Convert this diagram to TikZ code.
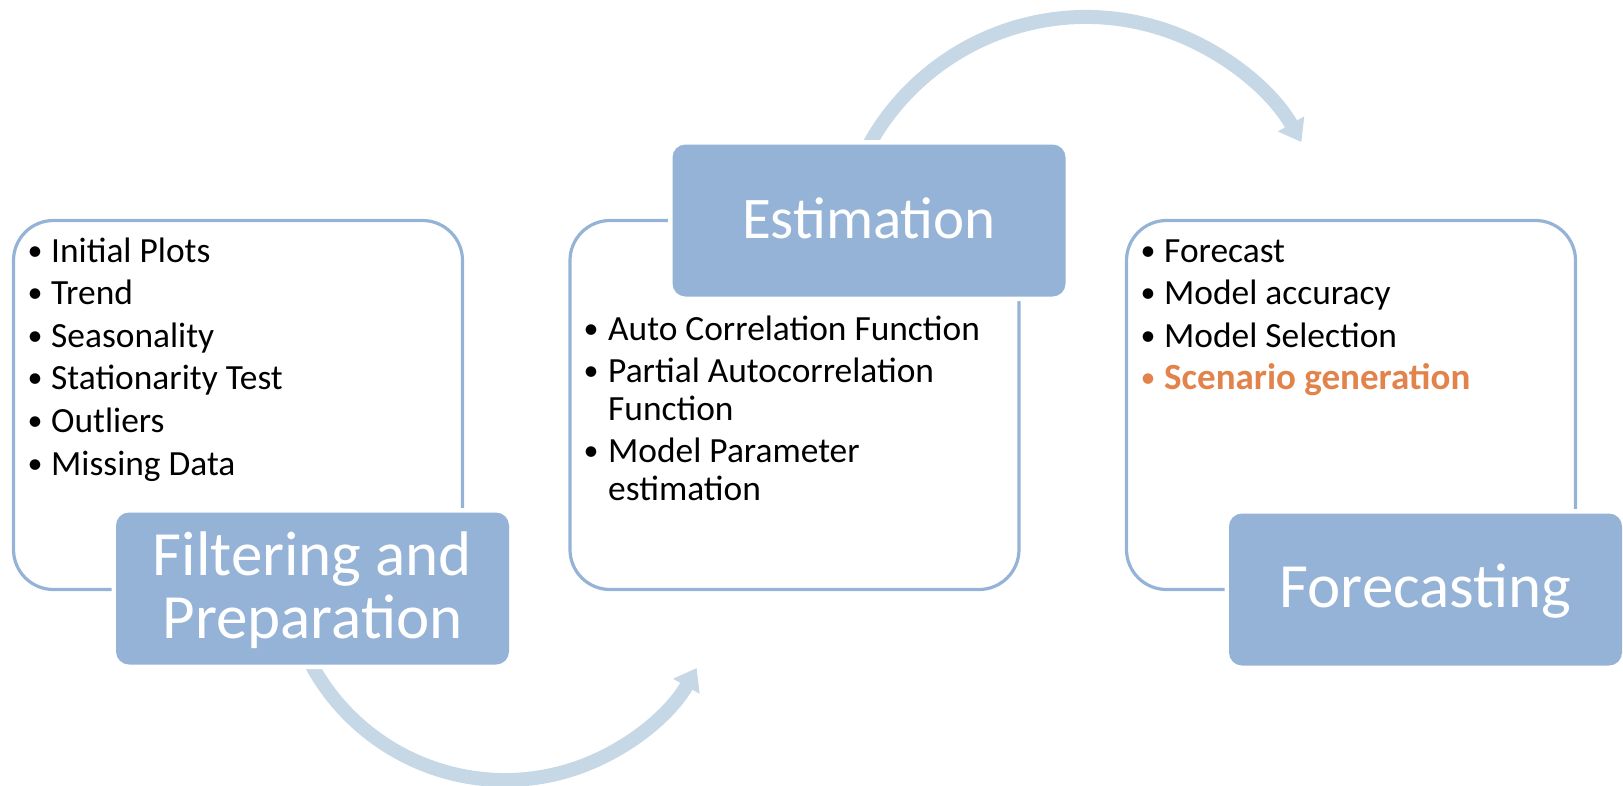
\documentclass[tikz,border=0pt]{standalone}
\usepackage{fontspec}
\setmainfont{Carlito}
\usetikzlibrary{arrows.meta,calc}
\definecolor{boxblue}{HTML}{95B3D7}
\definecolor{arrowblue}{HTML}{C6D7E6}
\definecolor{accentorange}{HTML}{E2834B}
\begin{document}
\begin{tikzpicture}[x=1pt,y=1pt,
  outlinebox/.style={draw=boxblue, line width=3.2pt, rounded corners=40pt, inner sep=0pt,
    minimum width=449pt, minimum height=369pt},
  labelbox/.style={fill=boxblue, preaction={draw=white, line width=9pt}, rounded corners=13pt,
    inner sep=0pt, minimum width=393pt, minimum height=152pt},
  cyclearrow/.style={draw=arrowblue, line width=14pt, -{Triangle[length=21pt,width=29pt]}},
  item/.style={anchor=base west, inner sep=0pt, font=\fontsize{35.4}{42}\selectfont},
  bul/.style={anchor=base, inner sep=0pt, yshift=2pt, font=\fontsize{30}{36}\selectfont},
  biglabel/.style={anchor=base, inner sep=0pt, text=white},
]
\useasboundingbox (0,0) rectangle (1623,-785);

% outline boxes
\node[outlinebox] (prep) at (238,-405) {};
\node[outlinebox] (est) at (794.5,-405) {};
\node[outlinebox] (fore) at (1351,-405) {};

% cycle arrows
\coordinate (arcA) at ($(505,-560)+(200:220)$);
\coordinate (arcB) at ($(1086,-265)+(160:248)$);
\draw[cyclearrow] (arcA) arc[start angle=200, end angle=330.6, radius=220];
\draw[cyclearrow] (arcB) arc[start angle=160, end angle=29.7, radius=248];

% label boxes
\node[labelbox] (preplabel) at (312.5,-588.5) {};
\node[labelbox] (estlabel) at (869,-220.5) {};
\node[labelbox] (forelabel) at (1425.5,-589.5) {};

% label texts
\node[biglabel, font=\fontsize{63}{63}\selectfont] (t1a) at (312.5,-575) {Filtering and};
\node[biglabel, font=\fontsize{63}{63}\selectfont] (t1b) at (312.5,-638) {Preparation};
\node[biglabel, font=\fontsize{59}{59}\selectfont] (t2) at (869,-238) {Estimation};
\node[biglabel, font=\fontsize{63}{63}\selectfont] (t3) at (1425.5,-607) {Forecasting};

% box 1 items
\foreach \txt/\yy [count=\i] in {Initial Plots/262, Trend/304.6, Seasonality/347.2,
    Stationarity Test/389.8, Outliers/432.4, Missing Data/475}{
  \node[bul] (pb\i) at (35,-\yy) {\textbullet};
  \node[item] (pi\i) at (51,-\yy) {\txt};
}

% box 2 items
\node[bul] (eb1) at (591,-340) {\textbullet};
\node[item] (ei1) at (608,-340) {Auto Correlation Function};
\node[bul] (eb2) at (591,-382.6) {\textbullet};
\node[item] (ei2) at (608,-382.6) {Partial Autocorrelation};
\node[item] (ei2b) at (608,-420.1) {Function};
\node[bul] (eb3) at (591,-462.7) {\textbullet};
\node[item] (ei3) at (608,-462.7) {Model Parameter};
\node[item] (ei3b) at (608,-500.2) {estimation};

% box 3 items
\foreach \txt/\yy [count=\i] in {Forecast/262, Model accuracy/304.6, Model Selection/347.2}{
  \node[bul] (fb\i) at (1148,-\yy) {\textbullet};
  \node[item] (fi\i) at (1164,-\yy) {\txt};
}
\node[bul, text=accentorange] (fb4) at (1148,-389.8) {\textbullet};
\node[item, text=accentorange, font=\fontsize{37}{42}\selectfont\bfseries] (fi4) at (1164,-389.8) {Scenario generation};
\end{tikzpicture}
\end{document}
